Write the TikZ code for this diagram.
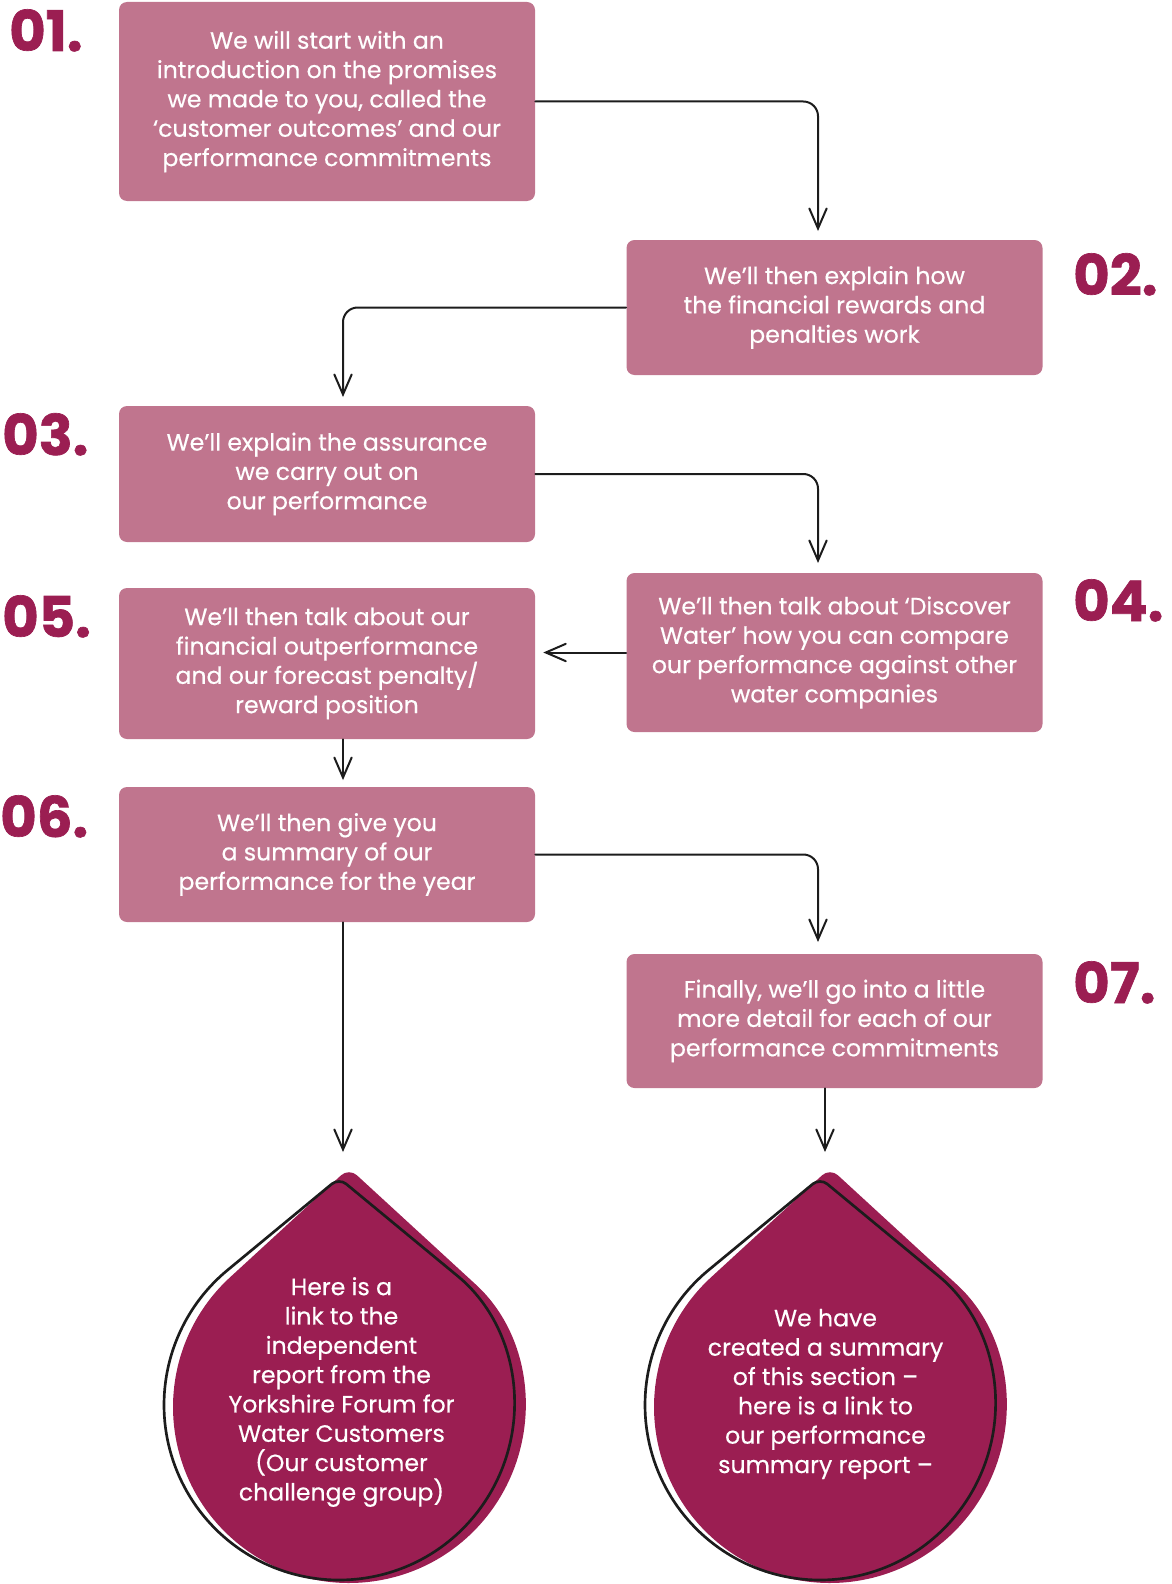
\documentclass[tikz,border=0pt]{standalone}
\usepackage{fontspec}
\setmainfont{Poppins}
\usetikzlibrary{arrows.meta,calc}
\definecolor{boxpink}{RGB}{192,117,142}
\definecolor{wine}{RGB}{155,30,82}
\definecolor{ink}{RGB}{28,28,28}

\begin{document}
\begin{tikzpicture}[x=0.75pt,y=-0.75pt,
  stepbox/.style={fill=boxpink, rounded corners=6pt, minimum width=312pt,
    inner sep=0pt, text=white, align=center,
    font=\fontsize{17.7}{22}\selectfont\addfontfeature{FakeBold=0.4}},
  num/.style={text=wine,
    font=\fontsize{42}{42}\selectfont\bfseries\addfontfeature{FakeBold=1.2},
    anchor=base west, inner sep=0pt},
  flow/.style={draw=ink, line width=1.5pt, rounded corners=11pt, line cap=round,
    -{Straight Barb[length=15pt,width=13pt,line width=1.5pt,line cap=round]}},
  dropfill/.style={fill=wine},
  dropline/.style={draw=ink, line width=2pt, line join=round},
  droptext/.style={text=white, align=center, inner sep=0pt,
    font=\fontsize{17.7}{22}\selectfont\addfontfeature{FakeBold=0.4}}
]
\useasboundingbox (0,0) rectangle (1171,1584);

% step boxes
\node[stepbox, minimum height=149.25pt] (b1) at (327,101.5)
  {We will start with an\\introduction on the promises\\we made to you, called the\\‘customer outcomes’ and our\\performance commitments};
\node[stepbox, minimum height=101.25pt] (b2) at (834.5,307.5)
  {We’ll then explain how\\the financial rewards and\\penalties work};
\node[stepbox, minimum height=102pt] (b3) at (327,474)
  {We’ll explain the assurance\\we carry out on\\our performance};
\node[stepbox, minimum height=119.25pt] (b4) at (834.5,652.5)
  {We’ll then talk about ‘Discover\\Water’ how you can compare\\our performance against other\\water companies};
\node[stepbox, minimum height=113.25pt] (b5) at (327,663.5)
  {We’ll then talk about our\\financial outperformance\\and our forecast penalty/\\reward position};
\node[stepbox, minimum height=101.25pt] (b6) at (327,854.5)
  {We’ll then give you\\a summary of our\\performance for the year};
\node[stepbox, minimum height=100.5pt] (b7) at (834.5,1021)
  {Finally, we’ll go into a little\\more detail for each of our\\performance commitments};

% step numbers
\node[num] (n1) at (9,51) {01.};
\node[num] (n2) at (1073,295) {02.};
\node[num] (n3) at (2,455) {03.};
\node[num] (n4) at (1073,621) {04.};
\node[num] (n5) at (2,637) {05.};
\node[num] (n6) at (0,837) {06.};
\node[num] (n7) at (1073,1003) {07.};

% droplets: filled shape with an offset outline on top
\coordinate (d1c) at (349,1407);
\coordinate (d1t) at (349,1168);
\coordinate (o1c) at (339,1405);
\coordinate (o1t) at (339,1178);
\coordinate (d2c) at (830,1407);
\coordinate (d2t) at (830,1168);
\coordinate (o2c) at (820,1405);
\coordinate (o2t) at (820,1178);

\path[dropfill] ($(d1c)+(132.57:132pt)$) [rounded corners=8pt] -- (d1t)
  -- ($(d1c)+(47.43:132pt)$) [sharp corners]
  arc[start angle=47.43, end angle=-227.43, radius=132pt] -- cycle;
\path[dropline] ($(o1c)+(129.5:131.25pt)$) [rounded corners=7pt] -- (o1t)
  -- ($(o1c)+(50.5:131.25pt)$) [sharp corners]
  arc[start angle=50.5, end angle=-230.5, radius=131.25pt] -- cycle;

\path[dropfill] ($(d2c)+(132.57:132pt)$) [rounded corners=8pt] -- (d2t)
  -- ($(d2c)+(47.43:132pt)$) [sharp corners]
  arc[start angle=47.43, end angle=-227.43, radius=132pt] -- cycle;
\path[dropline] ($(o2c)+(129.5:131.25pt)$) [rounded corners=7pt] -- (o2t)
  -- ($(o2c)+(50.5:131.25pt)$) [sharp corners]
  arc[start angle=50.5, end angle=-230.5, radius=131.25pt] -- cycle;

\node[droptext] (dt1) at (341.5,1392)
  {Here is a\\link to the\\independent\\report from the\\Yorkshire Forum for\\Water Customers\\(Our customer\\challenge group)};
\node[droptext] (dt2) at (825.5,1394)
  {We have\\created a summary\\of this section –\\here is a link to\\our performance\\summary report –};

% connectors
\coordinate (colL) at (343,0);
\coordinate (e12) at (818,231);
\coordinate (e23) at (343,397);
\coordinate (e34) at (818,563);
\coordinate (e67) at (818,942);
\coordinate (e6d) at (343,1152);
\coordinate (e7d) at (825,1152);

\draw[flow] (b1.east) -| (e12);
\draw[flow] (b2.west) -| (e23);
\draw[flow] (b3.east) -| (e34);
\draw[flow, shorten >=6pt] (b4.west) -- (b4.west -| b5.east);
\draw[flow, shorten >=5pt] (b5.south -| colL) -- (b6.north -| colL);
\draw[flow] (b6.east) -| (e67);
\draw[flow] (b6.south -| colL) -- (e6d);
\draw[flow] (b7.south -| e7d) -- (e7d);
\end{tikzpicture}
\end{document}
